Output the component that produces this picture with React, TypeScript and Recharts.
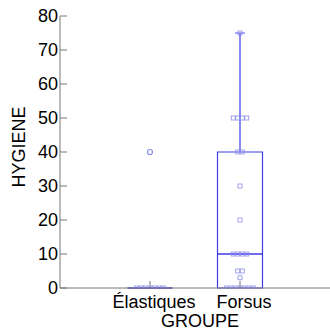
import {
  ComposedChart,
  ReferenceArea,
  ReferenceLine,
  Scatter,
  XAxis,
  YAxis,
} from "recharts";

const groups = ["Élastiques", "Forsus"];
const q1 = [0, 0];
const median = [0, 10];
const q3 = [0, 40];
const whiskerHigh = [0, 75];
const elastiques = [0, 0, 0, 0, 0, 0, 0];
const forsus = [
  0, 0, 0, 0, 0, 0, 0, 3, 5, 5, 10, 10, 10, 10, 20, 30, 40, 40, 50, 50, 50, 50, 75,
];
const outliers = [[40], []];
const yTicks = [0, 10, 20, 30, 40, 50, 60, 70, 80];

const font = "'Liberation Sans', Arial, sans-serif";
const boxColor = "#3c3ce6";
const pointColor = "#8c8cea";
const whiskerColor = "#8888ee";

// side-by-side placement of equal values around the group centre
function spread(values: number[], pos: number) {
  const counts: Record<number, number> = {};
  values.forEach((v) => (counts[v] = (counts[v] || 0) + 1));
  const seen: Record<number, number> = {};
  return values.map((v) => {
    const i = seen[v] || 0;
    seen[v] = i + 1;
    return { x: pos + (i - (counts[v] - 1) / 2) * 0.05, y: v };
  });
}

const points = [...spread(elastiques, 1), ...spread(forsus, 2)];
const outlierPoints = outliers.flatMap((vals, i) =>
  vals.map((v) => ({ x: i + 1, y: v })),
);

const Square = (p: any) => (
  <rect
    x={p.cx - 2}
    y={p.cy - 2}
    width={4}
    height={4}
    fill="none"
    stroke={pointColor}
    strokeWidth={0.8}
  />
);

const Ring = (p: any) => (
  <circle cx={p.cx} cy={p.cy} r={2.5} fill="none" stroke={pointColor} strokeWidth={1.2} />
);

export default function App() {
  const half = 0.25;
  return (
    <div style={{ position: "absolute", left: 0, top: 0 }}>
      <ComposedChart
        width={330}
        height={331}
        margin={{ top: 16, right: 0, bottom: 0, left: 0 }}
        style={{ fontFamily: font }}
      >
        <XAxis
          type="number"
          dataKey="x"
          domain={[0, 3]}
          ticks={[1, 2]}
          tickFormatter={(v) => groups[v - 1]}
          height={43}
          tickSize={-7}
          tickMargin={14}
          stroke="#777"
          tick={{ fill: "#000", fontSize: 18, dx: 4 }}
          allowDataOverflow
          label={{
            content: () => (
              <text x={200} y={327} textAnchor="middle" fontSize={18} fill="#000">
                GROUPE
              </text>
            ),
          }}
        />
        <XAxis
          xAxisId="top"
          orientation="top"
          type="number"
          domain={[0, 3]}
          ticks={[1, 2]}
          tickFormatter={() => ""}
          height={0}
          tickSize={-7}
          stroke="#333"
        />
        <YAxis
          type="number"
          dataKey="y"
          domain={[0, 80]}
          ticks={yTicks}
          width={60}
          tickSize={-7}
          tickMargin={9}
          stroke="#777"
          tick={{ fill: "#000", fontSize: 18 }}
          allowDataOverflow
          label={{
            content: () => (
              <text
                x={25}
                y={147}
                transform="rotate(-90 25 147)"
                textAnchor="middle"
                fontSize={18}
                fill="#000"
              >
                HYGIENE
              </text>
            ),
          }}
        />
        <YAxis
          yAxisId="right"
          orientation="right"
          type="number"
          domain={[0, 80]}
          ticks={yTicks}
          width={0}
          tickSize={-7}
          tickFormatter={() => ""}
          axisLine={false}
          stroke="#555"
        />
        {groups.map((g, i) =>
          q3[i] > q1[i] ? (
            <ReferenceArea
              key={`box-${g}`}
              x1={i + 1 - half}
              x2={i + 1 + half}
              y1={q1[i]}
              y2={q3[i]}
              fill="none"
              stroke={boxColor}
              strokeWidth={1.2}
              fillOpacity={0}
            />
          ) : null,
        )}
        {groups.map((g, i) =>
          whiskerHigh[i] > q3[i] ? (
            <ReferenceLine
              key={`wh-${g}`}
              segment={[
                { x: i + 1, y: q3[i] },
                { x: i + 1, y: whiskerHigh[i] },
              ]}
              stroke={whiskerColor}
              strokeWidth={2}
            />
          ) : null,
        )}
        {groups.map((g, i) =>
          whiskerHigh[i] > q3[i] ? (
            <ReferenceLine
              key={`cap-${g}`}
              segment={[
                { x: i + 1 - 0.055, y: whiskerHigh[i] },
                { x: i + 1 + 0.055, y: whiskerHigh[i] },
              ]}
              stroke={whiskerColor}
              strokeWidth={1.5}
            />
          ) : null,
        )}
        {groups.map((g, i) => (
          <ReferenceLine
            key={`med-${g}`}
            segment={[
              { x: i + 1 - half, y: median[i] },
              { x: i + 1 + half, y: median[i] },
            ]}
            stroke={boxColor}
            strokeWidth={1.5}
          />
        ))}
        <Scatter data={points} shape={Square} isAnimationActive={false} />
        <Scatter data={outlierPoints} shape={Ring} isAnimationActive={false} />
      </ComposedChart>
    </div>
  );
}
